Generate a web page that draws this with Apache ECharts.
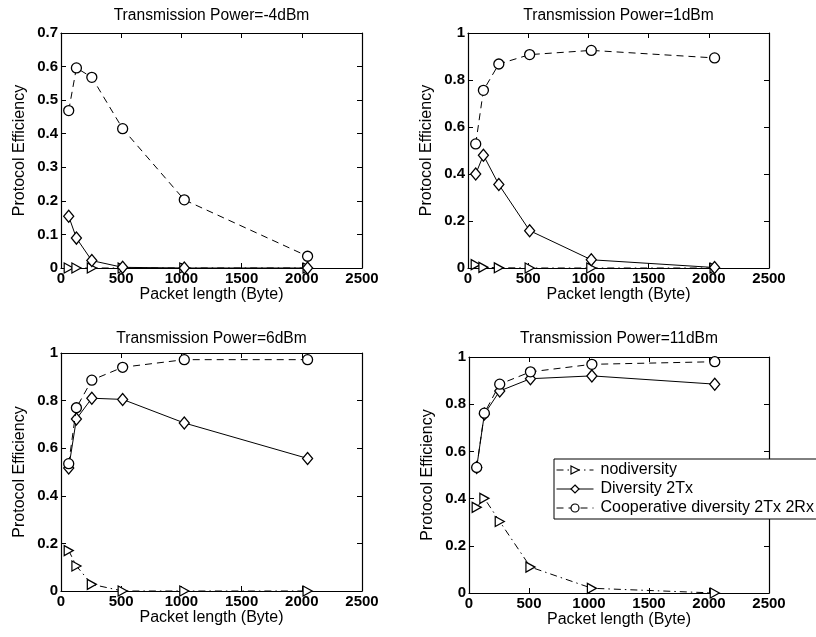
<!DOCTYPE html>
<html>
<head>
<meta charset="utf-8">
<script src="https://cdn.jsdelivr.net/npm/echarts@6/dist/echarts.min.js"></script>
<style>
  html, body { margin: 0; padding: 0; background: #fff; }
  #chart { width: 816px; height: 637px; }
</style>
</head>
<body>
<div id="chart"></div>
<script>
// Packet lengths (bytes) shared by all four panels
const packetLength = [64, 128, 256, 512, 1024, 2048];

// Panel titles
const panelTitles = [
  'Transmission Power=-4dBm',
  'Transmission Power=1dBm',
  'Transmission Power=6dBm',
  'Transmission Power=11dBm'
];

// Series names
const seriesNames = ['nodiversity', 'Diversity 2Tx', 'Cooperative diversity 2Tx 2Rx'];

// Protocol efficiency, -4 dBm
const noDiv_m4 = [0, 0, 0, 0, 0, 0];
const div2Tx_m4 = [0.154, 0.089, 0.022, 0.002, 0, 0];
const coop_m4 = [0.469, 0.596, 0.568, 0.415, 0.203, 0.035];

// Protocol efficiency, 1 dBm
const noDiv_1 = [0.014, 0.003, 0.001, 0, 0, 0];
const div2Tx_1 = [0.40, 0.48, 0.355, 0.159, 0.035, 0.002];
const coop_1 = [0.528, 0.756, 0.868, 0.908, 0.926, 0.894];

// Protocol efficiency, 6 dBm
const noDiv_6 = [0.17, 0.105, 0.028, 0, 0, 0];
const div2Tx_6 = [0.517, 0.723, 0.81, 0.805, 0.706, 0.557];
const coop_6 = [0.535, 0.77, 0.886, 0.94, 0.972, 0.972];

// Protocol efficiency, 11 dBm
const noDiv_11 = [0.363, 0.401, 0.303, 0.11, 0.02, 0];
const div2Tx_11 = [0.532, 0.758, 0.856, 0.908, 0.92, 0.885];
const coop_11 = [0.532, 0.762, 0.885, 0.937, 0.969, 0.980];

// Axis ranges
const xMax = 2500, xStep = 500;
const yMaxes = [0.7, 1, 1, 1];
const ySteps = [0.1, 0.2, 0.2, 0.2];

const panelData = [
  [noDiv_m4, div2Tx_m4, coop_m4],
  [noDiv_1, div2Tx_1, coop_1],
  [noDiv_6, div2Tx_6, coop_6],
  [noDiv_11, div2Tx_11, coop_11]
];

// Panel boxes in pixels
const boxes = [
  { left: 61, top: 33, width: 301, height: 235, titleTop: 8 },
  { left: 468, top: 33, width: 301, height: 235, titleTop: 8 },
  { left: 61, top: 353, width: 301, height: 238, titleTop: 331 },
  { left: 469, top: 357, width: 300, height: 236, titleTop: 331 }
];

const FONT = 'Liberation Sans, Arial, Helvetica, sans-serif';

const triRight = 'path://M0,0 L10,5 L0,10 Z';
const symbols = [triRight, 'diamond', 'circle'];
const symbolSizes = [[9, 10], [10, 12], 10];
const lineTypes = [[7, 4, 1.5, 4], 'solid', [7, 5]];

const grids = [], xAxes = [], yAxes = [], titles = [], series = [];

boxes.forEach((b, i) => {
  grids.push({ left: b.left, top: b.top, width: b.width, height: b.height, show: false });

  titles.push({
    text: panelTitles[i],
    left: b.left + b.width / 2,
    top: b.titleTop,
    textAlign: 'center',
    padding: 0,
    textStyle: { fontFamily: FONT, fontSize: 15.6, fontWeight: 'normal', color: '#000' }
  });

  const tickStyle = { show: true, inside: true, length: 5, lineStyle: { color: '#000', width: 1 } };

  // bottom x axis with labels
  xAxes.push({
    type: 'value', gridIndex: i, min: 0, max: xMax, interval: xStep,
    position: 'bottom',
    name: 'Packet length (Byte)', nameLocation: 'middle', nameGap: 18,
    nameTextStyle: { fontFamily: FONT, fontSize: 16, color: '#000' },
    axisLine: { show: true, onZero: false, lineStyle: { color: '#000', width: 1.2 } },
    axisTick: tickStyle,
    axisLabel: {
      margin: 3, fontFamily: FONT, fontSize: 15, fontWeight: 'bold', color: '#000',
      formatter: v => String(v)
    },
    splitLine: { show: false }
  });
  // top box edge
  xAxes.push({
    type: 'value', gridIndex: i, min: 0, max: xMax, interval: xStep,
    position: 'top',
    axisLine: { show: true, onZero: false, lineStyle: { color: '#000', width: 1.2 } },
    axisTick: tickStyle,
    axisLabel: { show: false },
    splitLine: { show: false }
  });
  // left y axis with labels
  yAxes.push({
    type: 'value', gridIndex: i, min: 0, max: yMaxes[i], interval: ySteps[i],
    position: 'left',
    name: 'Protocol Efficiency', nameLocation: 'middle', nameGap: 33,
    nameTextStyle: { fontFamily: FONT, fontSize: 16, color: '#000' },
    axisLine: { show: true, onZero: false, lineStyle: { color: '#000', width: 1.2 } },
    axisTick: tickStyle,
    axisLabel: { margin: 3, fontFamily: FONT, fontSize: 15, fontWeight: 'bold', color: '#000' },
    splitLine: { show: false }
  });
  // right box edge
  yAxes.push({
    type: 'value', gridIndex: i, min: 0, max: yMaxes[i], interval: ySteps[i],
    position: 'right',
    axisLine: { show: true, onZero: false, lineStyle: { color: '#000', width: 1.2 } },
    axisTick: tickStyle,
    axisLabel: { show: false },
    splitLine: { show: false }
  });

  panelData[i].forEach((vals, s) => {
    series.push({
      name: seriesNames[s],
      type: 'line',
      xAxisIndex: 2 * i,
      yAxisIndex: 2 * i,
      data: packetLength.map((x, k) => [x, vals[k]]),
      symbol: symbols[s],
      symbolSize: symbolSizes[s],
      showAllSymbol: true,
      clip: false,
      lineStyle: { color: '#000', width: 1, type: lineTypes[s] },
      itemStyle: { color: '#fff', borderColor: '#000', borderWidth: 1.3 },
      emphasis: { disabled: true },
      z: 2 + s
    });
  });
});

const chart = echarts.init(document.getElementById('chart'), null, { renderer: 'canvas' });
chart.setOption({
  backgroundColor: '#fff',
  animation: false,
  title: titles,
  grid: grids,
  xAxis: xAxes,
  yAxis: yAxes,
  legend: {
    data: seriesNames,
    orient: 'vertical',
    left: 554,
    top: 459,
    itemWidth: 37,
    itemHeight: 10,
    itemGap: 3,
    padding: [3, 20, 3, 2],
    backgroundColor: '#fff',
    borderColor: '#000',
    borderWidth: 1,
    itemStyle: { color: '#fff', borderColor: '#000', borderWidth: 1.2 },
    lineStyle: { color: '#000', width: 1 },
    textStyle: { fontFamily: FONT, fontSize: 16, color: '#000', padding: [0, 0, 0, 2] },
    selectedMode: false
  },
  series: series
});
</script>
</body>
</html>
